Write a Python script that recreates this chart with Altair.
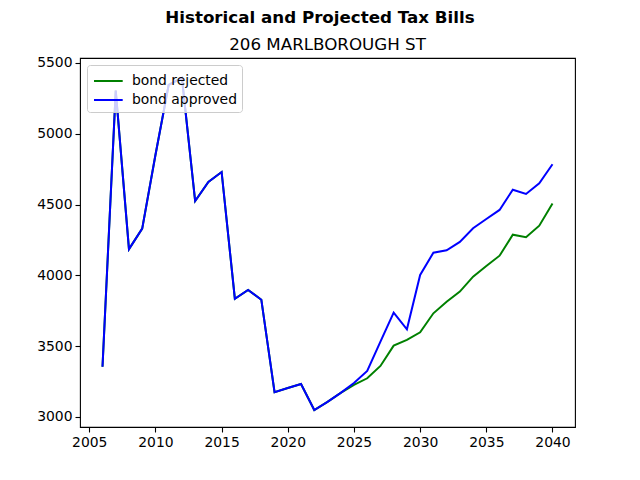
import altair as alt
import pandas as pd

# Tax bill history (2006-2022) and projections (2023-2040)
years = list(range(2006, 2041))

bond_approved = [
    3355, 5305, 4185, 4330, 4850, 5345, 5395, 4525, 4660, 4730,
    3835, 3897, 3828, 3175, 3204, 3233, 3049, 3106, 3170, 3240,
    3325, 3532, 3737, 3619, 4003, 4160, 4177, 4236, 4333, 4398,
    4462, 4605, 4575, 4650, 4785,
]

bond_rejected = [
    3355, 5305, 4185, 4330, 4850, 5345, 5395, 4525, 4660, 4730,
    3835, 3897, 3828, 3175, 3204, 3233, 3049, 3106, 3170, 3226,
    3273, 3360, 3504, 3544, 3598, 3732, 3814, 3885, 3991, 4066,
    4139, 4287, 4269, 4351, 4507,
]

series_names = ["bond rejected", "bond approved"]
series_colors = ["#008000", "#0000ff"]

x_ticks = [2005, 2010, 2015, 2020, 2025, 2030, 2035, 2040]
y_ticks = [3000, 3500, 4000, 4500, 5000, 5500]

headings = ["Historical and Projected Tax Bills", "206 MARLBOROUGH ST"]

df = pd.concat([
    pd.DataFrame({"year": years, "tax": bond_rejected, "scenario": series_names[0], "order": 0}),
    pd.DataFrame({"year": years, "tax": bond_approved, "scenario": series_names[1], "order": 1}),
])

FONT = "DejaVu Sans"
LINE_W = 2.0

axis_style = dict(
    title=None,
    format="d",
    grid=False,
    domain=False,
    ticks=True,
    tickColor="black",
    tickSize=5,
    tickWidth=1.1,
    labelFont=FONT,
    labelFontSize=13.9,
    labelColor="black",
    labelPadding=3,
)

lines = alt.Chart(df).mark_line(strokeWidth=LINE_W, clip=False).encode(
    x=alt.X(
        "year:Q",
        scale=alt.Scale(domain=[2004.3, 2041.7], nice=False, zero=False),
        axis=alt.Axis(values=x_ticks, **axis_style),
    ),
    y=alt.Y(
        "tax:Q",
        scale=alt.Scale(domain=[2929, 5535], nice=False, zero=False),
        axis=alt.Axis(values=y_ticks, **axis_style),
    ),
    color=alt.Color(
        "scenario:N",
        scale=alt.Scale(domain=series_names, range=series_colors),
        legend=alt.Legend(
            title=None,
            orient="top-left",
            offset=7,
            # short horizontal stroke, shifted right inside the symbol slot
            symbolType="M-0.9,0H1.97",
            symbolSize=400,
            symbolStrokeWidth=LINE_W,
            labelFontSize=13.9,
            labelFont=FONT,
            labelColor="black",
            labelOffset=18,
            rowPadding=1,
            padding=5,
            strokeColor="#cccccc",
            fillColor="rgba(255,255,255,0.8)",
            cornerRadius=3,
        ),
    ),
    order="order:Q",
    detail="scenario:N",
)

# Figure heading (bold) and property subtitle, placed above the plot frame
title_df = pd.DataFrame({"t": headings})
main_title = alt.Chart(title_df.iloc[[0]]).mark_text(
    font=FONT, fontSize=16.7, fontWeight="bold", color="black", baseline="alphabetic", align="center"
).encode(text="t:N", x=alt.value(240), y=alt.value(-35))
sub_title = alt.Chart(title_df.iloc[[1]]).mark_text(
    font=FONT, fontSize=16.7, color="black", baseline="alphabetic", align="center"
).encode(text="t:N", x=alt.value(247.5), y=alt.value(-8))

chart = alt.layer(lines, main_title, sub_title).properties(
    width=495,
    height=369,
    autosize=alt.AutoSizeParams(type="none"),
    padding={"left": 80, "top": 58, "right": 65, "bottom": 53},
    background="white",
).configure_view(
    stroke="black", strokeWidth=1.1,
)

chart.save("out.html", embed_options={"renderer": "svg", "actions": False})
